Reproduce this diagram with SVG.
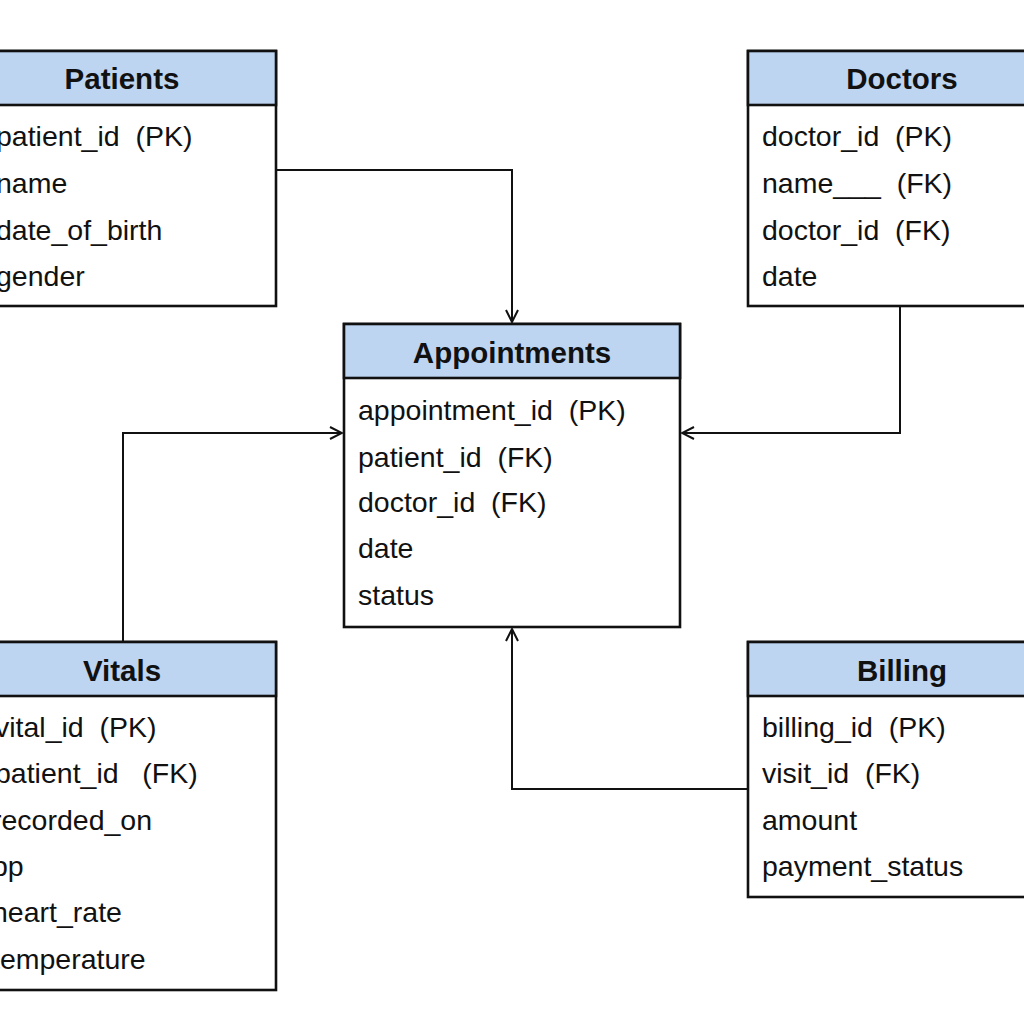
<svg xmlns="http://www.w3.org/2000/svg" width="1024" height="1024" viewBox="0 0 1024 1024">
<style>
.box{fill:#fff;stroke:#111;stroke-width:2.6}
.hdr{fill:#bed5f1;stroke:#111;stroke-width:2.6}
.title{font-family:"Liberation Sans",Arial,sans-serif;font-weight:bold;font-size:29.5px;fill:#111;text-anchor:middle}
.row{font-family:"Liberation Sans",Arial,sans-serif;font-size:28.5px;fill:#111;white-space:pre}
.conn{fill:none;stroke:#111;stroke-width:2}
</style>
<defs>
<marker id="arr" viewBox="0 0 14 14" refX="13" refY="7" markerWidth="14" markerHeight="14" markerUnits="userSpaceOnUse" orient="auto">
<path d="M1,1 L13,7 L1,13" fill="none" stroke="#111" stroke-width="2"/>
</marker>
</defs>
<rect width="1024" height="1024" fill="#fff"/>
<g id="connectors">
<path class="conn" d="M276,170 H512 V322" marker-end="url(#arr)"/>
<path class="conn" d="M900,306 V433 H682" marker-end="url(#arr)"/>
<path class="conn" d="M123,642 V433 H342" marker-end="url(#arr)"/>
<path class="conn" d="M748,789 H512 V629" marker-end="url(#arr)"/>
</g>
<g id="patients">
<rect class="box" x="-32" y="51" width="308" height="255"/>
<rect class="hdr" x="-32" y="51" width="308" height="54"/>
<text class="title" x="122" y="89">Patients</text>
<text class="row" x="-4" y="146">patient_id  (PK)</text>
<text class="row" x="-4" y="193">name</text>
<text class="row" x="-4" y="240">date_of_birth</text>
<text class="row" x="-4" y="286">gender</text>
</g>
<g id="doctors">
<rect class="box" x="748" y="51" width="308" height="255"/>
<rect class="hdr" x="748" y="51" width="308" height="54"/>
<text class="title" x="902" y="89">Doctors</text>
<text class="row" x="762" y="146">doctor_id  (PK)</text>
<text class="row" x="762" y="193">name___  (FK)</text>
<text class="row" x="762" y="240">doctor_id  (FK)</text>
<text class="row" x="762" y="286">date</text>
</g>
<g id="appointments">
<rect class="box" x="344" y="324" width="336" height="303"/>
<rect class="hdr" x="344" y="324" width="336" height="54"/>
<text class="title" x="512" y="363">Appointments</text>
<text class="row" x="358" y="420">appointment_id  (PK)</text>
<text class="row" x="358" y="467">patient_id  (FK)</text>
<text class="row" x="358" y="512">doctor_id  (FK)</text>
<text class="row" x="358" y="558">date</text>
<text class="row" x="358" y="605">status</text>
</g>
<g id="vitals">
<rect class="box" x="-32" y="642" width="308" height="348"/>
<rect class="hdr" x="-32" y="642" width="308" height="54"/>
<text class="title" x="122" y="681">Vitals</text>
<text class="row" x="-5" y="737">vital_id  (PK)</text>
<text class="row" x="-5" y="783">patient_id   (FK)</text>
<text class="row" x="-8" y="830">recorded_on</text>
<text class="row" x="-8" y="876">bp</text>
<text class="row" x="-8" y="922">heart_rate</text>
<text class="row" x="-8" y="969">temperature</text>
</g>
<g id="billing">
<rect class="box" x="748" y="642" width="308" height="255"/>
<rect class="hdr" x="748" y="642" width="308" height="54"/>
<text class="title" x="902" y="681">Billing</text>
<text class="row" x="762" y="737">billing_id  (PK)</text>
<text class="row" x="762" y="783">visit_id  (FK)</text>
<text class="row" x="762" y="830">amount</text>
<text class="row" x="762" y="876">payment_status</text>
</g>
</svg>
